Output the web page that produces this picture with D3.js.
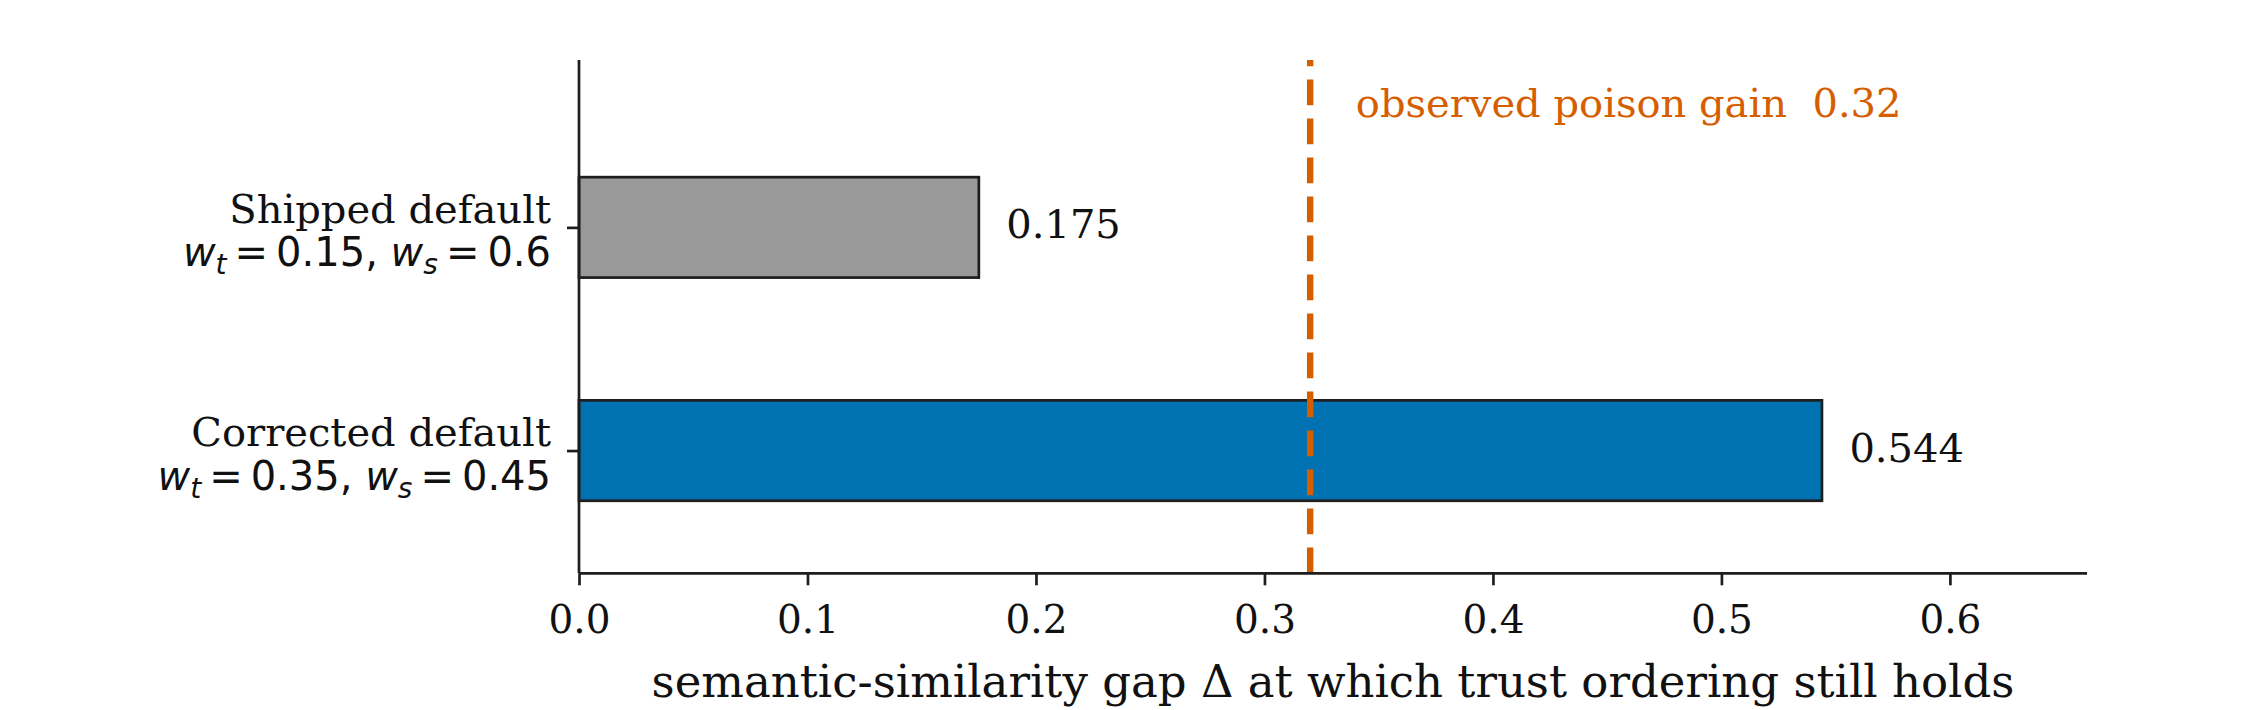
<!DOCTYPE html>
<html>
<head>
<meta charset="utf-8">
<script src="https://cdn.jsdelivr.net/npm/d3@7"></script>
<style>
  html, body { margin: 0; padding: 0; background: #fff; }
  text { font-family: "DejaVu Serif", serif; fill: #111; }
  .math { font-family: "DejaVu Sans", sans-serif; }
</style>
</head>
<body>
<div id="chartDiv"></div>
<script>
// chart data
var categories = ['Shipped default', 'Corrected default'];
var weightTrust = ['0.15', '0.35'];
var weightSem = ['0.6', '0.45'];
var gapValues = [0.175, 0.544];
var barColors = ['#999999', '#0072B2'];
var xTicks = [0, 0.1, 0.2, 0.3, 0.4, 0.5, 0.6];
var observedGain = 0.32;
var gainLabel = 'observed poison gain  0.32';
var xLabel = 'semantic-similarity gap \u0394 at which trust ordering still holds';

var W = 2260, H = 710;
var margin = {top: 60, left: 579, right: 2260 - 2087, bottom: 710 - 573.3};

var svg = d3.select('#chartDiv').append('svg')
    .attr('width', W)
    .attr('height', H);

var x = d3.scaleLinear()
    .domain([0, 0.66])
    .range([margin.left, W - margin.right]);

// categories sit at 0 and 1, axis runs top to bottom
var y = d3.scaleLinear()
    .domain([-0.75, 1.55])
    .range([margin.top, H - margin.bottom]);

var barH = y(0.45) - y(0);

// bars
svg.selectAll('.bar')
    .data(gapValues)
    .enter().append('rect')
    .attr('class', 'bar')
    .attr('x', x(0))
    .attr('y', function(d, i) { return y(i) - barH / 2; })
    .attr('width', function(d) { return x(d) - x(0); })
    .attr('height', barH)
    .style('fill', function(d, i) { return barColors[i]; })
    .style('stroke', '#1e1e1e')
    .style('stroke-width', 2.7);

// value labels
svg.selectAll('.valLabel')
    .data(gapValues)
    .enter().append('text')
    .attr('class', 'valLabel')
    .attr('x', function(d) { return x(d + 0.012); })
    .attr('y', function(d, i) { return y(i) + 11; })
    .style('font-size', '40px')
    .text(function(d) { return d3.format('.3f')(d); });

// observed gain reference line, dashes start from the bottom
svg.append('line')
    .attr('x1', x(observedGain))
    .attr('x2', x(observedGain))
    .attr('y1', y(1.55))
    .attr('y2', y(-0.75))
    .style('stroke', '#D55E00')
    .style('stroke-width', 6.4)
    .style('stroke-dasharray', '25.7,13.3');

svg.append('text')
    .attr('x', x(observedGain + 0.02))
    .attr('y', y(-0.55))
    .attr('dy', '0.32em')
    .attr('xml:space', 'preserve')
    .style('white-space', 'pre')
    .style('font-size', '40px')
    .style('fill', '#D55E00')
    .text(gainLabel);

// x axis
var xAxis = svg.append('g')
    .attr('transform', 'translate(0,' + y(1.55) + ')')
    .call(d3.axisBottom(x).tickValues(xTicks).tickSize(12).tickFormat(d3.format('.1f')));

xAxis.select('.domain')
    .attr('d', 'M' + x(0) + ',0H' + x(0.66))
    .style('stroke', '#1e1e1e')
    .style('stroke-width', 2.7);
xAxis.selectAll('.tick line')
    .style('stroke', '#1e1e1e')
    .style('stroke-width', 2.7);
xAxis.selectAll('.tick text')
    .attr('y', 60)
    .attr('dy', 0)
    .style('font-family', '"DejaVu Serif", serif')
    .style('font-size', '39px')
    .style('fill', '#111');

// y axis
var yAxis = svg.append('g')
    .attr('transform', 'translate(' + x(0) + ',0)')
    .call(d3.axisLeft(y).tickValues([0, 1]).tickSize(12).tickFormat(''));

yAxis.select('.domain')
    .attr('d', 'M0,' + y(-0.75) + 'V' + y(1.55))
    .style('stroke', '#1e1e1e')
    .style('stroke-width', 2.7);
yAxis.selectAll('.tick line')
    .style('stroke', '#1e1e1e')
    .style('stroke-width', 2.7);

// two line category labels
var labelX = x(0) - 28;
var yLabels = svg.selectAll('.yLabel')
    .data(categories)
    .enter().append('g')
    .attr('class', 'yLabel');

yLabels.append('text')
    .attr('x', labelX)
    .attr('y', function(d, i) { return y(i) - 4.5; })
    .attr('text-anchor', 'end')
    .style('font-size', '40px')
    .text(function(d) { return d; });

var mathLine = yLabels.append('text')
    .attr('class', 'math')
    .attr('x', labelX)
    .attr('y', function(d, i) { return y(i) + 39; })
    .attr('text-anchor', 'end')
    .style('font-size', '40px');

mathLine.append('tspan').style('font-style', 'italic').text('w');
mathLine.append('tspan').style('font-style', 'italic').style('font-size', '28px').attr('dy', 8).text('t');
mathLine.append('tspan').attr('dy', -8).attr('xml:space', 'preserve').text(function(d, i) { return '\u2009=\u2009' + weightTrust[i] + ', '; });
mathLine.append('tspan').style('font-style', 'italic').text('w');
mathLine.append('tspan').style('font-style', 'italic').style('font-size', '28px').attr('dy', 8).text('s');
mathLine.append('tspan').attr('dy', -8).text(function(d, i) { return '\u2009=\u2009' + weightSem[i]; });

// x axis title
svg.append('text')
    .attr('x', (x(0) + x(0.66)) / 2)
    .attr('y', 697)
    .attr('text-anchor', 'middle')
    .style('font-size', '45px')
    .text(xLabel);
</script>
</body>
</html>
